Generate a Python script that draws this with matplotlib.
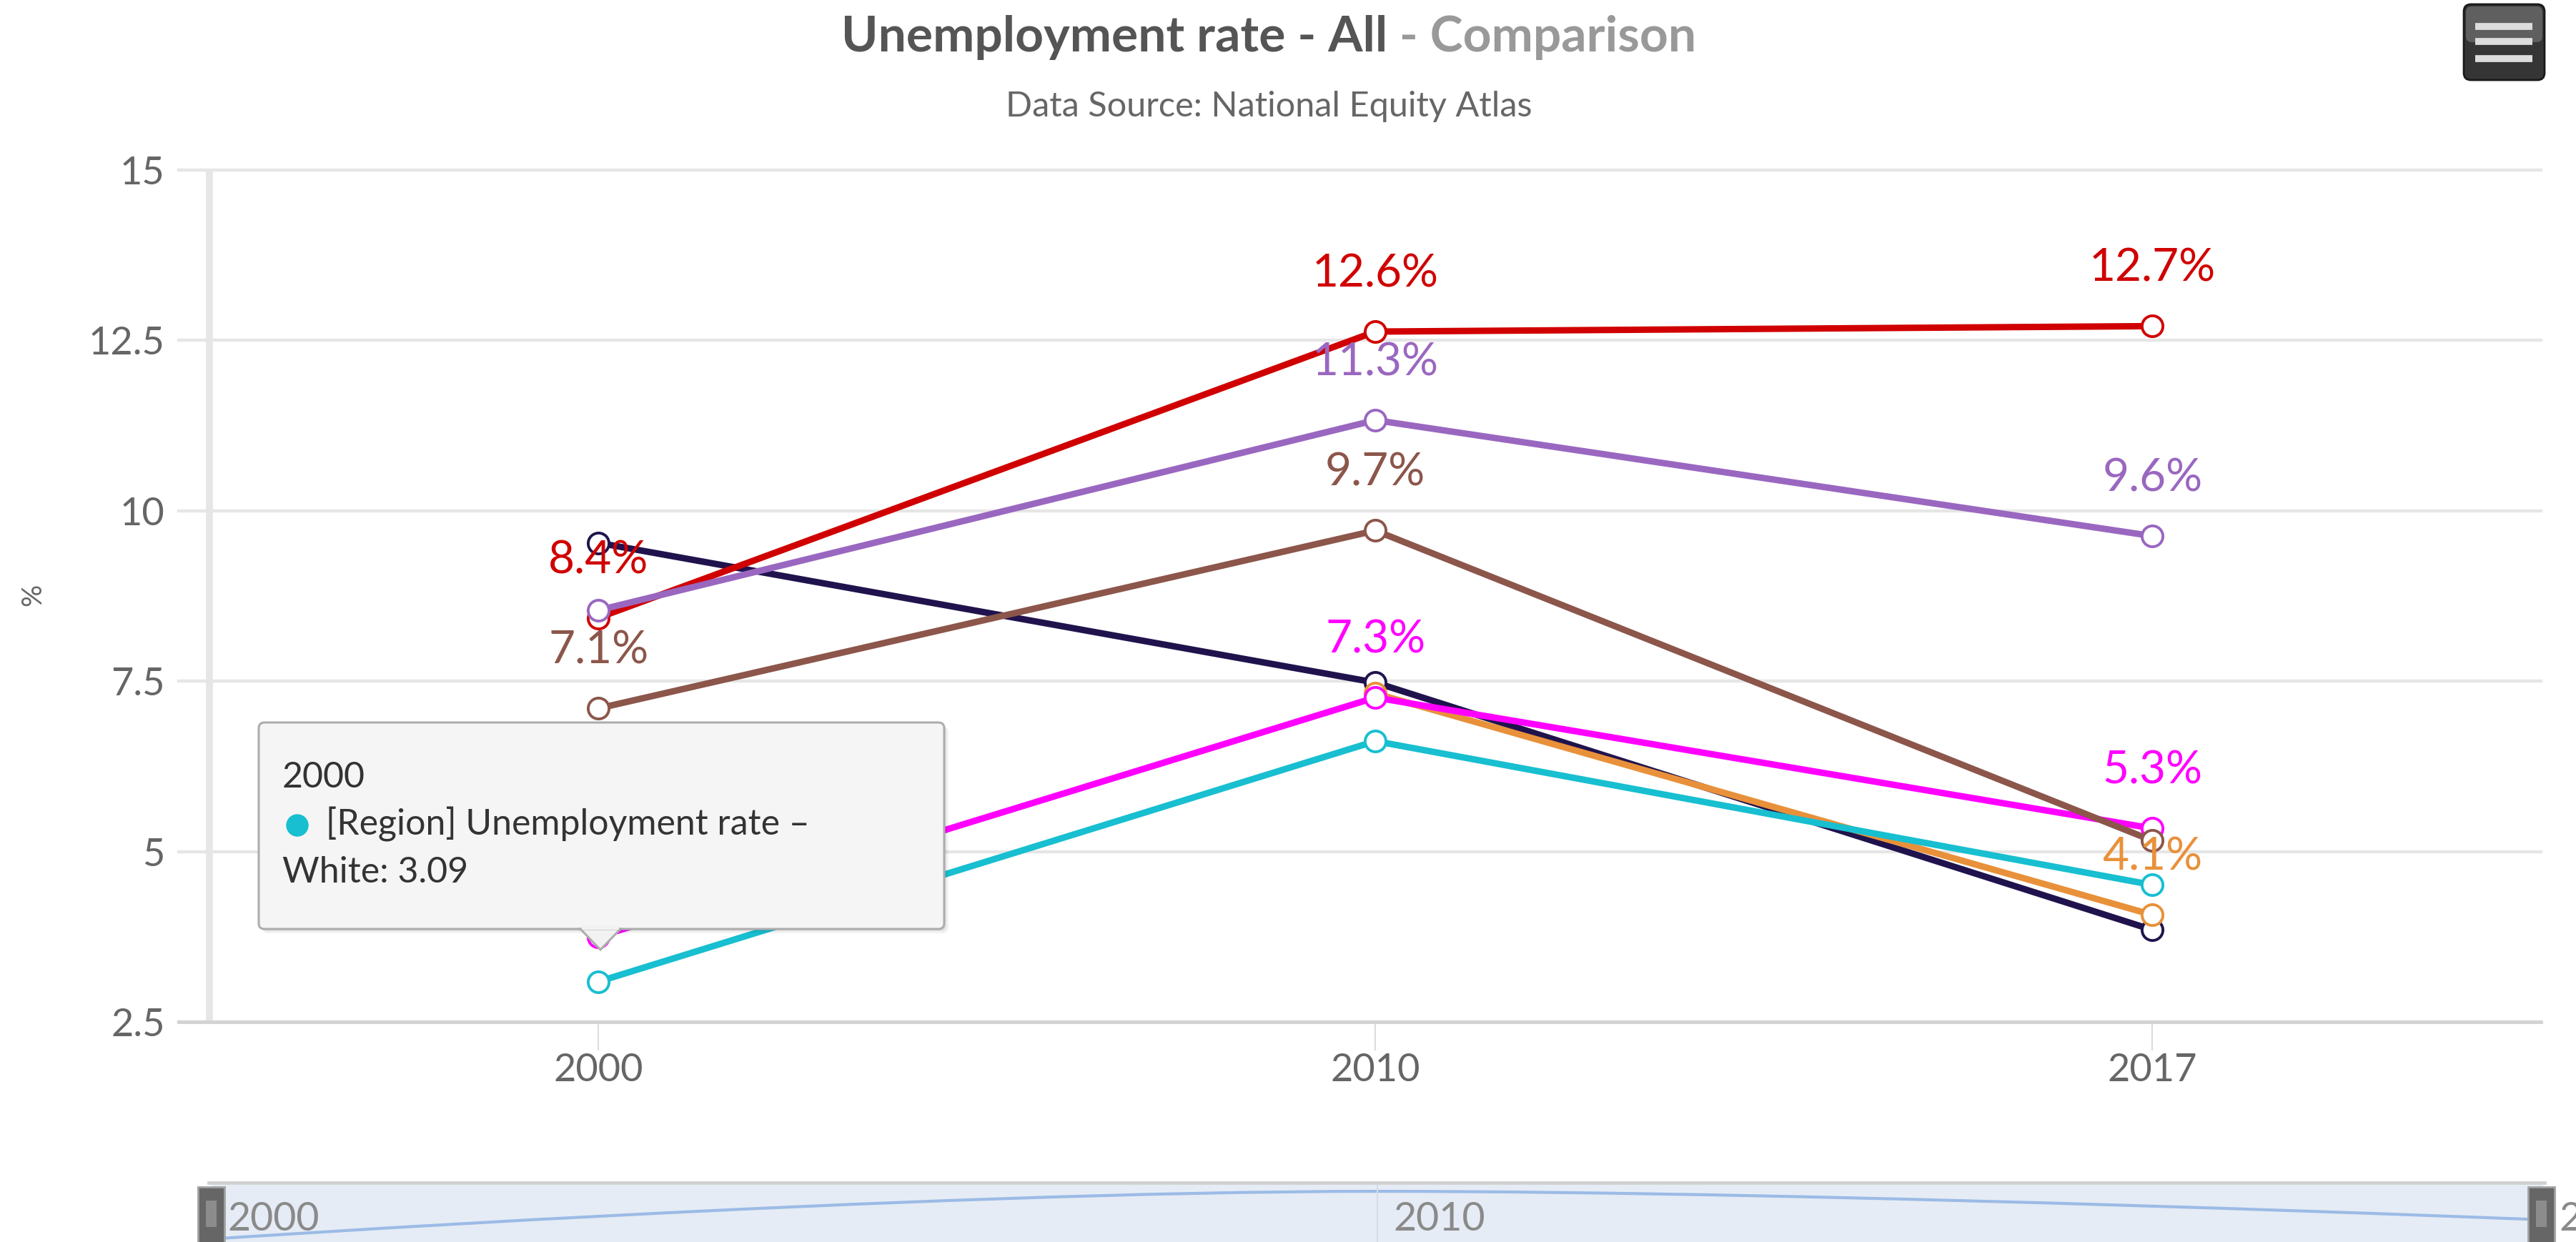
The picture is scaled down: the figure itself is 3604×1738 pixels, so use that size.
import numpy as np
import matplotlib
matplotlib.use('Agg')
import matplotlib.pyplot as plt
from matplotlib.patches import FancyBboxPatch, Polygon, Circle, Rectangle, PathPatch
from matplotlib.lines import Line2D
from matplotlib.path import Path
from matplotlib.transforms import Affine2D

plt.rcParams['font.family'] = ['Lato', 'DejaVu Sans']

# data
years = ['2000', '2010', '2017']
navy = [9.53, 7.48, 3.85]
orange = [np.nan, 7.32, 4.07]
cyan = [3.09, 6.62, 4.51]
magenta = [3.75, 7.26, 5.34]
brown = [7.10, 9.71, 5.16]
red = [8.43, 12.63, 12.71]
purple = [8.54, 11.33, 9.63]

ytick_vals = [2.5, 5, 7.5, 10, 12.5, 15]
ytick_labels = ['2.5', '5', '7.5', '10', '12.5', '15']

# drawing order (later on top)
series = [
    ('navy', navy, '#20134d'),
    ('orange', orange, '#e8913a'),
    ('cyan', cyan, '#17bfd0'),
    ('magenta', magenta, '#ff00ff'),
    ('brown', brown, '#8c564b'),
    ('red', red, '#d00000'),
    ('purple', purple, '#9a67c0'),
]
# data labels that are visible (the others are hidden by overlap)
shown_labels = {'red': [0, 1, 2], 'purple': [1, 2], 'brown': [0, 1],
                'magenta': [1, 2], 'orange': [2]}

W, H = 3605, 1738
fig = plt.figure(figsize=(W / 100, H / 100), dpi=100)
# pixel coords measured from the top-left corner
T = Affine2D().scale(0.01, -0.01).translate(0, H / 100) + fig.dpi_scale_trans

ax = fig.add_axes([250 / W, 1 - 1430 / H, (3555 - 250) / W, (1430 - 238) / H])
ax.set_xlim(-0.54, 2.5)
ax.set_ylim(2.5, 15)

for s in ['top', 'left', 'right']:
    ax.spines[s].set_visible(False)
ax.spines['bottom'].set_color('#d3d3d3')
ax.spines['bottom'].set_linewidth(3.5)

ax.set_yticks(ytick_vals)
ax.set_yticklabels(ytick_labels)
ax.grid(axis='y', color='#e6e6e6', lw=3.2)
for gl in ax.get_ygridlines():
    gl.set_clip_on(False)
ax.axvline(-0.5, color='#e6e6e6', lw=7, zorder=0.5)

ax.set_xticks(range(len(years)))
ax.set_xticklabels(years)
ax.tick_params(axis='x', length=29, width=1.5, color='#dcdcdc', pad=2,
               labelsize=39, labelcolor='#666666')
ax.tick_params(axis='y', length=0, pad=14, labelsize=39, labelcolor='#666666')

x = np.arange(len(years))
for i, (name, vals, col) in enumerate(series):
    ax.plot(x, vals, color=col, lw=6.5, marker='o', ms=21, mfc='white',
            mec=col, mew=2.8, zorder=2 + i * 0.1, clip_on=False)
for name, vals, col in series:
    for k in shown_labels.get(name, []):
        ax.annotate(f'{vals[k]:.1f}%', (x[k], vals[k]), xytext=(0, 45),
                    textcoords='offset points', ha='center', va='baseline',
                    color=col, fontsize=46, zorder=5)

fig.text(46 / W, 1 - 832 / H, '%', rotation=90, ha='center', va='center',
         fontsize=28, color='#666666')

# title in two colours
t1 = fig.text(0, 1 - 72 / H, 'Unemployment rate - All', fontsize=50,
              fontweight='bold', color='#555555', va='baseline')
t2 = fig.text(0, 1 - 72 / H, ' - Comparison', fontsize=50,
              fontweight='bold', color='#999999', va='baseline')
fig.canvas.draw()
r = fig.canvas.get_renderer()
w1 = t1.get_window_extent(r).width
w2 = t2.get_window_extent(r).width
left = 1775 - (w1 + w2) / 2
t1.set_x(left / W)
t2.set_x((left + w1) / W)
fig.text(1775 / W, 1 - 163 / H, 'Data Source: National Equity Atlas',
         fontsize=35, color='#666666', ha='center', va='baseline')

# export menu button
fig.add_artist(FancyBboxPatch((3447, 6), 113, 106, boxstyle='round,pad=0,rounding_size=10',
                              transform=T, fc='#353535', ec='#1a1a1a', lw=2))
fig.add_artist(FancyBboxPatch((3450, 9), 107, 50, boxstyle='round,pad=0,rounding_size=8',
                              transform=T, fc='#5f5f5f', ec='none'))
for yy in (37, 57.5, 82):
    fig.add_artist(Line2D([3463, 3543], [yy, yy], transform=T, color='#dcdcdc',
                          lw=7, solid_capstyle='butt'))

# tooltip
for off, a in ((6, 0.05), (3, 0.07)):
    fig.add_artist(FancyBboxPatch((362 + off, 1011 + off), 959, 289,
                                  boxstyle='round,pad=0,rounding_size=8', transform=T,
                                  fc='black', ec='none', alpha=a))
fig.add_artist(FancyBboxPatch((362, 1011), 959, 289, boxstyle='round,pad=0,rounding_size=8',
                              transform=T, fc='#f5f5f5', ec='#adadad', lw=2.2))
fig.add_artist(Polygon([(812, 1300), (840, 1329), (868, 1300)], closed=True, transform=T,
                       fc='#f2f2f2', ec='#adadad', lw=2.2))
fig.add_artist(Rectangle((814, 1295), 52, 6, transform=T, fc='#f2f2f2', ec='none'))
fig.text(395, 1102, years[0], transform=T, fontsize=36, color='#333333', va='baseline')
fig.add_artist(Circle((416, 1155), 15, transform=T, color=series[2][2]))
fig.text(456, 1168, '[Region] Unemployment rate \u2013', transform=T, fontsize=36,
         color='#333333', va='baseline')
fig.text(395, 1235, f'White: {cyan[0]:.2f}', transform=T, fontsize=36,
         color='#333333', va='baseline')

# navigator
nav = fig.add_axes([296 / W, (H - 1745) / H, (3558 - 296) / W, (1745 - 1658) / H])
nav.set_facecolor('#e6ecf5')
for s in nav.spines.values():
    s.set_visible(False)
nav.set_xticks([])
nav.set_yticks([])
nav.set_xlim(0, 2)
nav.set_ylim(2.5, 7.1)
nav.axvline(1, color='#d5dce8', lw=1.5)
fig.add_artist(Line2D([292, 3560], [1655, 1655], transform=T, color='#d0d0d0', lw=3.5))


def spline_path(xs, ys, smoothing=1.5):
    n = len(xs)
    lc = [(xs[i], ys[i]) for i in range(n)]
    rc = [(xs[i], ys[i]) for i in range(n)]
    for j in range(1, n - 1):
        d = smoothing + 1
        lx = (smoothing * xs[j] + xs[j - 1]) / d
        ly = (smoothing * ys[j] + ys[j - 1]) / d
        rx = (smoothing * xs[j] + xs[j + 1]) / d
        ry = (smoothing * ys[j] + ys[j + 1]) / d
        corr = (ry - ly) * (rx - xs[j]) / (rx - lx) + ys[j] - ry
        ly += corr
        ry += corr
        if ly > ys[j - 1] and ly > ys[j]:
            ly = max(ys[j - 1], ys[j])
            ry = 2 * ys[j] - ly
        elif ly < ys[j - 1] and ly < ys[j]:
            ly = min(ys[j - 1], ys[j])
            ry = 2 * ys[j] - ly
        if ry > ys[j + 1] and ry > ys[j]:
            ry = max(ys[j + 1], ys[j])
            ly = 2 * ys[j] - ry
        elif ry < ys[j + 1] and ry < ys[j]:
            ry = min(ys[j + 1], ys[j])
            ly = 2 * ys[j] - ry
        lc[j] = (lx, ly)
        rc[j] = (rx, ry)
    verts = [(xs[0], ys[0])]
    codes = [Path.MOVETO]
    for i in range(1, n):
        verts += [rc[i - 1], lc[i], (xs[i], ys[i])]
        codes += [Path.CURVE4] * 3
    return Path(verts, codes)


nav.add_patch(PathPatch(spline_path(list(x), cyan), fill=False, ec='#9cbbe6', lw=3))
for i, yr in enumerate(years):
    nav.annotate(yr, (i, 0.44), xycoords=nav.get_xaxis_transform(), xytext=(16, 0),
                 textcoords='offset points', ha='left', va='center', fontsize=40,
                 color='#8a8a8a', annotation_clip=False)
for cx in (296, 3556):
    fig.add_artist(Rectangle((cx - 19, 1661), 37, 80, transform=T, fc='#666666',
                             ec='#a0a0a0', lw=2))
    fig.add_artist(Rectangle((cx - 8, 1680), 15, 37, transform=T, fc='#8c8c8c', ec='none'))

fig.savefig('out.png', dpi=100, facecolor='white')
